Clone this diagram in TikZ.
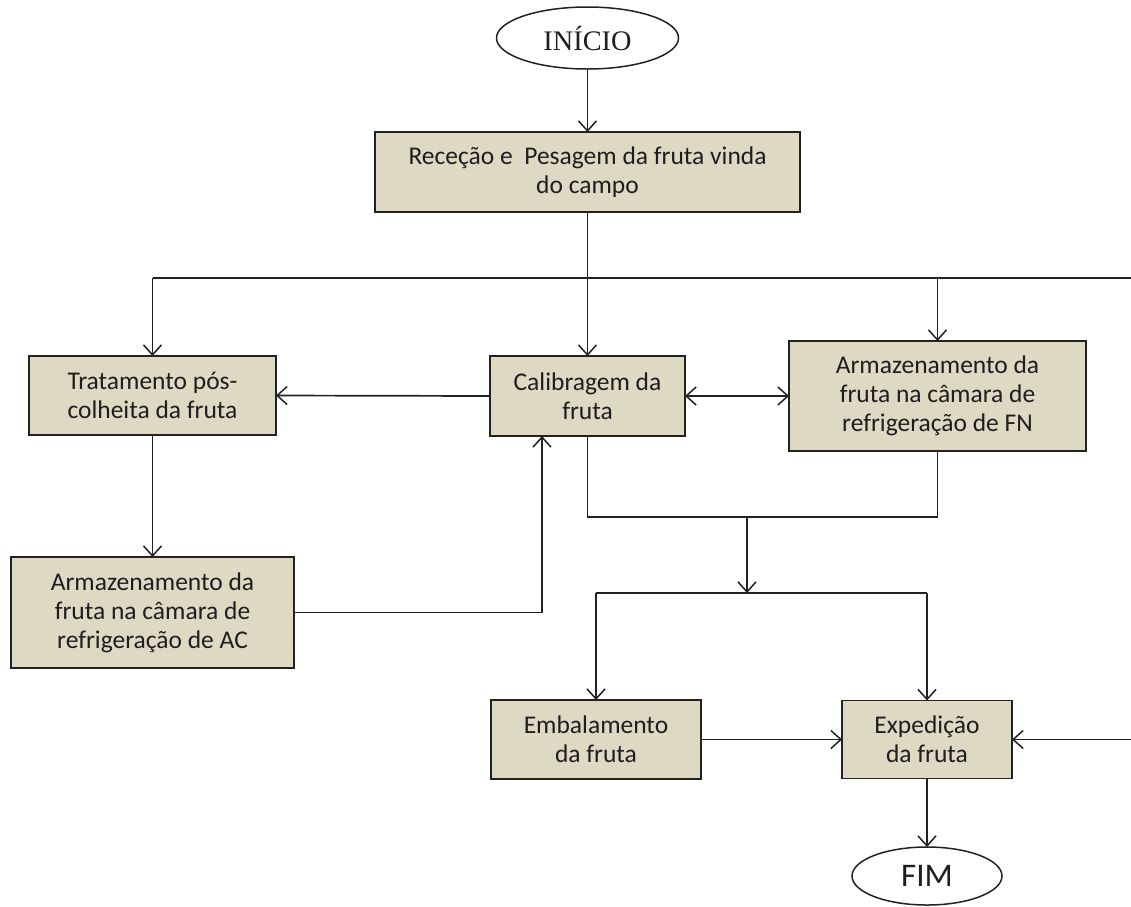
\documentclass[tikz,border=0pt]{standalone}
\usepackage{fontspec}
\setmainfont{Carlito}
\newfontfamily\serifont{Liberation Serif}
\usetikzlibrary{arrows.meta,shapes.geometric}
\definecolor{boxfill}{RGB}{221,217,195}
\definecolor{ink}{RGB}{34,34,34}
\definecolor{txt}{RGB}{30,30,30}
\tikzset{
  procbox/.style={draw=ink, fill=boxfill, line width=1.9pt, inner sep=0pt, outer sep=0pt,
    align=center, text=txt, font=\fontsize{25.5}{29}\selectfont},
  termnode/.style={ellipse, draw=ink, line width=1.5pt, inner sep=0pt, outer sep=0pt, text=txt},
  conn/.style={draw=ink, line width=1.7pt},
  arr/.style={conn, -{Straight Barb[length=10pt,width=18pt,line width=1.5pt]}},
  darr/.style={conn, {Straight Barb[length=10pt,width=18pt,line width=1.5pt]}-{Straight Barb[length=10pt,width=18pt,line width=1.5pt]}}
}
\begin{document}
\begin{tikzpicture}[x=1pt,y=-1pt]
\useasboundingbox (0,0) rectangle (1131,906);
\fill[white] (0,0) rectangle (1131,906);

% nodes
\node[termnode, minimum width=182pt, minimum height=62pt, font=\serifont\fontsize{28.3}{32}\selectfont] (ini) at (587.5,38) {INÍCIO};
\node[procbox, minimum width=425pt, minimum height=80pt] (rec) at (587.5,172) {Receção e\ \ Pesagem da fruta vinda\\do campo};
\node[procbox, minimum width=247pt, minimum height=79pt] (trat) at (152.5,395.5) {Tratamento pós-\\colheita da fruta};
\node[procbox, minimum width=195pt, minimum height=80pt] (calib) at (587.5,396) {Calibragem da\\fruta};
\node[procbox, minimum width=297pt, minimum height=110pt] (fn) at (937.5,396) {Armazenamento da\\fruta na câmara de\\refrigeração de FN};
\node[procbox, minimum width=283pt, minimum height=111pt] (ac) at (152.5,612.5) {Armazenamento da\\fruta na câmara de\\refrigeração de AC};
\node[procbox, minimum width=210pt, minimum height=79pt] (emb) at (596,739.5) {Embalamento\\da fruta};
\node[procbox, minimum width=170pt, minimum height=78pt] (exp) at (927,739.5) {Expedição\\da fruta};
\node[termnode, minimum width=150pt, minimum height=58pt, font=\fontsize{33}{36}\selectfont] (fim) at (927,876) {FIM};

% helper coordinates
\coordinate (top) at (587.5,278);
\coordinate (topL) at (152.5,278);
\coordinate (topR) at (937.5,278);
\coordinate (topE) at (1131,278);
\coordinate (acup) at (542,612.5);
\coordinate (mid) at (747,517);
\coordinate (bot) at (747,593);
\coordinate (botL) at (596,593);
\coordinate (botR) at (927,593);
\coordinate (rightE) at (1131,739.5);

% connectors
\draw[arr] (ini) -- (rec);
\draw[conn] (rec.south) -- (top);
\draw[conn] (topL) -- (topE);
\draw[arr] (topL) -- (trat.north);
\draw[arr] (top) -- (calib.north);
\draw[arr] (topR) -- (fn.north);
\draw[arr] (calib.west) -- (trat.east);
\draw[darr] (calib.east) -- (fn.west);
\draw[arr] (trat.south) -- (ac.north);
\draw[arr] (ac.east) -- (acup) -- (acup |- calib.south);
\draw[conn] (calib.south) |- (mid) -| (fn.south);
\draw[arr] (mid) -- (bot);
\draw[conn] (botL) -- (botR);
\draw[arr] (botL) -- (emb.north);
\draw[arr] (botR) -- (exp.north);
\draw[arr] (emb.east) -- (exp.west);
\draw[arr] (rightE) -- (exp.east);
\draw[arr] (exp.south) -- (fim.north);
\end{tikzpicture}
\end{document}
